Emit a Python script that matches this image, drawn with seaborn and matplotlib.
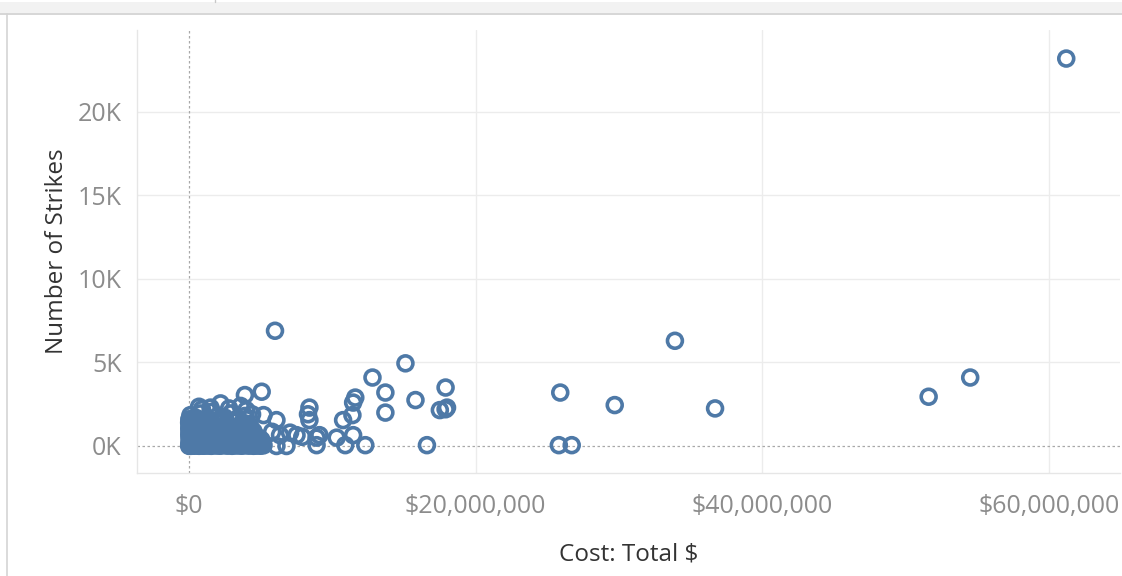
import matplotlib
matplotlib.use("Agg")
import matplotlib.pyplot as plt
from matplotlib.ticker import FixedLocator
from matplotlib.lines import Line2D
from matplotlib.patches import Rectangle
import seaborn as sns
import pandas as pd

# Total cost in millions of dollars, and number of strikes, per record
cost_musd = [
    # densest band near zero strikes
    0.01, 0.05, 0.1, 0.15, 0.2, 0.3, 0.4, 0.5, 0.6, 0.7, 0.8, 0.9, 1.0, 1.1, 1.25, 1.4, 1.55, 1.7, 1.85, 2.0,
    2.15, 2.3, 2.5, 2.65, 2.8, 3.0, 3.15, 3.3, 3.5, 3.65, 3.8, 4.0, 4.15, 4.3, 4.5, 4.65, 4.8, 5.0, 5.2,
    0.08, 0.35, 0.75, 1.2, 1.65, 2.2, 2.7, 3.1, 3.6, 4.05, 4.6, 5.1,
    0.02, 0.12, 0.25, 0.35, 0.5, 0.65, 0.8, 0.95, 1.15, 1.3, 1.5, 1.7, 1.9, 2.1, 2.3, 2.55, 2.75, 3.0, 3.2,
    3.45, 3.7, 3.95, 4.2, 4.45, 4.7, 5.0,
    0.1, 0.55, 1.1, 1.6, 2.05, 2.6, 3.05, 3.6, 4.0, 4.55, 5.05,
    0.03, 0.15, 0.3, 0.45, 0.6, 0.8, 1.0, 1.2, 1.4, 1.65, 1.9, 2.15, 2.4, 2.7, 2.95, 3.25, 3.5, 3.8, 4.1,
    4.4, 4.75,
    0.02, 0.35, 0.9, 1.45, 1.95, 2.45, 3.0, 3.55, 4.0, 4.6,
    0.05, 0.2, 0.4, 0.6, 0.85, 1.05, 1.3, 1.55, 1.8, 2.05, 2.3, 2.6, 2.9, 3.2, 3.5, 3.85, 4.2, 4.5,
    0.02, 0.4, 0.9, 1.45, 2.0, 2.55, 3.0, 3.6, 4.1,
    0.04, 0.25, 0.5, 0.75, 1.0, 1.3, 1.6, 1.95, 2.3, 2.7, 3.1, 3.5, 3.9, 4.3,
    0.01, 0.02, 0.05, 0.03, 0.06,
    0.6, 1.1, 1.8, 2.5, 3.3, 4.0,
    0.1, 0.45, 0.8, 1.2, 1.6, 2.0, 2.5, 2.9, 3.4, 3.9, 4.4,
    0.7, 0.9, 1.5, 2.2, 2.8, 3.6, 4.0,
    # scattered mid-range records
    3.9, 5.07, 5.2, 6.1, 5.8, 6.35, 7.05, 7.5, 6.1, 6.8, 7.9, 8.9, 9.1, 8.9,
    8.4, 8.3, 8.4, 10.3, 10.75, 11.4, 11.45, 11.6, 11.45, 10.9, 12.3,
    12.8, 13.7, 13.7, 15.1, 15.8, 16.6, 17.9, 17.5, 17.9, 18.0,
    6.0, 25.9, 25.8, 26.7, 29.7, 33.9, 36.7, 51.6, 54.5, 61.2,
]
strikes = [
    5, 20, 60, 10, 40, 15, 70, 25, 50, 10, 80, 30, 15, 60, 20, 45, 10, 70, 25, 50,
    15, 35, 60, 20, 40, 10, 55, 25, 45, 15, 30, 60, 20, 40, 10, 35, 25, 15, 40,
    120, 110, 140, 100, 130, 115, 140, 105, 125, 110, 135, 120,
    180, 260, 320, 200, 290, 170, 340, 230, 300, 190, 270, 210, 330, 240, 180, 300, 220, 280, 190,
    320, 240, 200, 290, 230, 180, 260,
    380, 400, 360, 390, 370, 410, 360, 390, 380, 400, 370,
    450, 560, 420, 620, 500, 430, 600, 480, 560, 420, 620, 500, 440, 580, 470, 610, 430, 540, 460,
    600, 500,
    680, 660, 690, 650, 680, 670, 690, 660, 650, 680,
    750, 900, 820, 980, 720, 880, 760, 950, 800, 700, 920, 780, 860, 740, 960, 820, 720, 880,
    1050, 1020, 1080, 1000, 1060, 1030, 1090, 1010, 1050,
    1150, 1300, 1420, 1180, 1350, 1480, 1220, 1400, 1150, 1300, 1450, 1200, 1350, 1100,
    1400, 1600, 1250, 900, 550,
    1550, 1600, 1520, 1580, 1530, 1600,
    1850, 1700, 1950, 1650, 2050, 1800, 1700, 1950, 1650, 1800, 1900,
    2350, 2200, 2300, 2550, 2250, 2400, 2150,
    3050, 3250, 1850, 1550, 850, 650, 800, 650, 0, 0, 550, 500, 650, 50,
    2300, 1900, 1550, 500, 1550, 1850, 2600, 2900, 650, 50, 50,
    4100, 3200, 2000, 4950, 2750, 50, 3500, 2150, 2200, 2300,
    6900, 3200, 50, 50, 2450, 6300, 2250, 2950, 4100, 23200,
]

x_ticks = [0, 20, 40, 60]
x_tick_labels = ["$0", "$20,000,000", "$40,000,000", "$60,000,000"]
y_ticks = [0, 5000, 10000, 15000, 20000]
y_tick_labels = ["0K", "5K", "10K", "15K", "20K"]

df = pd.DataFrame({"cost": cost_musd, "strikes": strikes})

sns.set_theme(style="white")
plt.rcParams["font.family"] = ["Open Sans", "DejaVu Sans"]

W, H = 1122, 576
fig = plt.figure(figsize=(W / 100, H / 100), dpi=100)
fig.patch.set_facecolor("white")

# window chrome: toolbar strip at top and left frame line
fig.add_artist(Rectangle((0, 1 - 13 / H), 1, 11 / H, transform=fig.transFigure,
                         facecolor="#f2f2f2", edgecolor="none"))
fig.add_artist(Line2D([0, 1], [1 - 13.5 / H] * 2, transform=fig.transFigure,
                      color="#d0d0d0", lw=1.2))
fig.add_artist(Line2D([7 / W] * 2, [0, 1 - 13.5 / H], transform=fig.transFigure,
                      color="#d4d4d4", lw=1.2))
fig.add_artist(Line2D([215 / W] * 2, [1 - 2 / H, 1], transform=fig.transFigure,
                      color="#c8c8c8", lw=1))

ax = fig.add_axes([137 / W, 1 - 473 / H, (1120 - 137) / W, (473 - 30) / H])

color = "#4e79a7"
sns.scatterplot(data=df, x="cost", y="strikes", ax=ax, s=115, linewidth=2.5,
                zorder=3, legend=False)
for coll in ax.collections:
    coll.set_facecolor("none")
    coll.set_edgecolor(color)
    coll.set_linewidth(2.6)

ax.set_xlim(-3.628, 64.95)
ax.set_ylim(-1617, 24910)

ax.xaxis.set_major_locator(FixedLocator(x_ticks))
ax.set_xticklabels(x_tick_labels)
ax.yaxis.set_major_locator(FixedLocator(y_ticks))
ax.set_yticklabels(y_tick_labels)

ax.tick_params(axis="both", length=0, labelsize=18, labelcolor="#8c8c8c")
ax.tick_params(axis="x", pad=15)
ax.tick_params(axis="y", pad=11)

# gridlines, skipping the zero positions (drawn as dashed reference lines)
for xv in x_ticks[1:]:
    ax.axvline(xv, color="#ececec", lw=1, zorder=0)
for yv in y_ticks[1:]:
    ax.axhline(yv, color="#ececec", lw=1, zorder=0)
ax.axvline(0, color="#a8a8a8", lw=0.9, ls=(0, (2, 2)), zorder=1)
ax.axhline(0, color="#a8a8a8", lw=0.9, ls=(0, (2, 2)), zorder=1)

for side in ["top", "right"]:
    ax.spines[side].set_visible(False)
for side in ["left", "bottom"]:
    ax.spines[side].set_color("#e6e6e6")
    ax.spines[side].set_linewidth(1)

ax.set_xlabel("Cost: Total $", fontsize=17.5, color="#333333", labelpad=17)
ax.set_ylabel("Number of Strikes", fontsize=17.5, color="#333333", labelpad=6)

fig.savefig("out.png", dpi=100)
